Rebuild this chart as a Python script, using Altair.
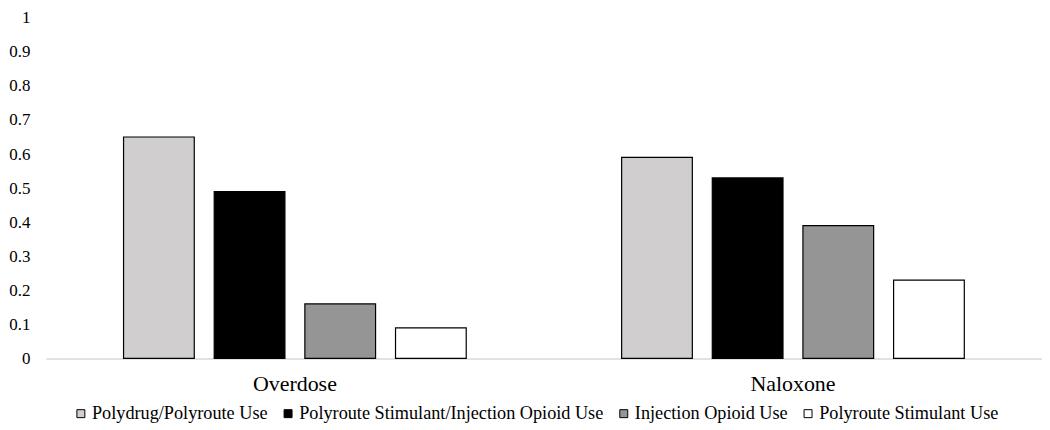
import altair as alt
import pandas as pd

outcomes = ["Overdose", "Naloxone"]
groups = ["Polydrug/Polyroute Use", "Polyroute Stimulant/Injection Opioid Use",
          "Injection Opioid Use", "Polyroute Stimulant Use"]
overdose_vals = [0.65, 0.49, 0.16, 0.09]
naloxone_vals = [0.59, 0.53, 0.39, 0.23]
colors = ["#D0CECE", "#000000", "#959595", "#FFFFFF"]
y_ticks = [0, 0.1, 0.2, 0.3, 0.4, 0.5, 0.6, 0.7, 0.8, 0.9, 1]

rows = []
for g, v in zip(groups, overdose_vals):
    rows.append({"outcome": "Overdose", "group": g, "value": v})
for g, v in zip(groups, naloxone_vals):
    rows.append({"outcome": "Naloxone", "group": g, "value": v})
df = pd.DataFrame(rows)

FONT = "Liberation Serif"

chart = alt.Chart(df).mark_bar(stroke="#000000", strokeWidth=1.2).encode(
    x=alt.X("outcome:N", sort=outcomes, title=None,
            scale=alt.Scale(paddingInner=0.312, paddingOuter=0.156),
            axis=alt.Axis(labelAngle=0, labelFontSize=22, labelFont=FONT, labelColor="#000000",
                          domainColor="#D9D9D9", domainWidth=1.5, ticks=False, labelPadding=15)),
    xOffset=alt.XOffset("group:N", sort=groups,
                        scale=alt.Scale(paddingInner=0.22, paddingOuter=0)),
    y=alt.Y("value:Q", title=None,
            scale=alt.Scale(domain=[0, 1], nice=False),
            axis=alt.Axis(values=y_ticks, grid=False, domain=False, ticks=False,
                          labelFontSize=17, labelFont=FONT, labelColor="#000000",
                          labelPadding=16, labelExpr="datum.value == 0 ? '0' : datum.value == 1 ? '1' : format(datum.value, '.1f')")),
    fill=alt.Fill("group:N", sort=groups,
                  scale=alt.Scale(domain=groups, range=colors),
                  legend=alt.Legend(title=None, orient="none", direction="horizontal",
                                    legendX=26, legendY=388,
                                    columns=4, symbolType="square", symbolSize=64,
                                    symbolStrokeColor="#000000", symbolStrokeWidth=1,
                                    labelFont=FONT, labelFontSize=18.3, labelColor="#000000",
                                    labelLimit=0, columnPadding=11, labelOffset=2)),
).properties(
    width=1000, height=342,
    padding={"left": 0, "top": 0, "right": 0, "bottom": 0},
).configure(font=FONT).configure_view(stroke=None)

chart.save("out.html", embed_options={"renderer": "svg", "actions": False})
